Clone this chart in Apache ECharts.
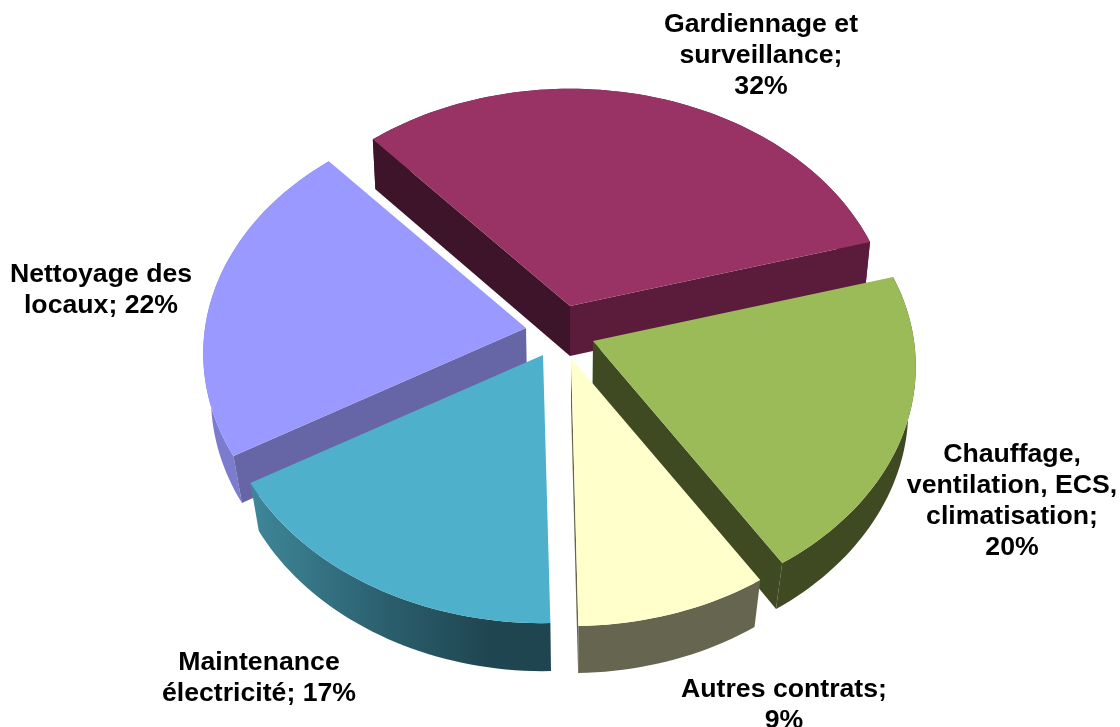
<!DOCTYPE html>
<html><head><meta charset="utf-8">
<style>html,body{margin:0;padding:0;background:#fff}#c{width:1120px;height:727px}</style>
<script src="https://cdn.jsdelivr.net/npm/echarts@6/dist/echarts.min.js"></script>
</head><body><div id="c"></div>
<script>
// DATA
const categories = ['Gardiennage et surveillance','Chauffage, ventilation, ECS, climatisation','Autres contrats','Maintenance électricité','Nettoyage des locaux'];
const values = [32.1,20.4,8.7,16.9,21.9];
const labelLines = [
  ['Gardiennage et','surveillance;','32%'],
  ['Chauffage,','ventilation, ECS,','climatisation;','20%'],
  ['Autres contrats;','9%'],
  ['Maintenance','électricité; 17%'],
  ['Nettoyage des','locaux; 22%']
];
// LAYOUT AND STYLE
const startAngle = -41.5;
const apexes = [[570,306],[593,341],[571,358],[543,355],[526,328]];
const labelAnchors = [[761,9],[1012,439],[784,674],[259,647],[101,259]];
const zRank = [1,3,4,5,2];
const depths = [50,46,47,48,47];
const R = 321, RQ = 240, K = 0.105;
const topColors = ['#993366','#9BBB59','#FFFFCC','#4FB0CB','#9999FF'];
const startFaces = ['#3D1429',null,null,null,'#6666A6'];
const endFaces = ['#5A1C3A','#3F4A22','#666650',null,null];
const outerColors = ['#5A1C3A','#3F4A22','#666650',
  {type:'linear',x:0,y:0,x2:1,y2:0,colorStops:[{offset:0,color:'#3E8799'},{offset:0.45,color:'#2B5F6E'},{offset:0.8,color:'#1F4550'},{offset:1,color:'#1F4550'}]},
  '#7C7CCF'];

const total = values.reduce((a,b)=>a+b,0);
function project(apex, deg){
  const t = deg*Math.PI/180, s = 1/(1+K*Math.cos(t));
  return [apex[0]+R*Math.sin(t)*s, apex[1]-RQ*Math.cos(t)*s];
}
function lower(p, depth){
  const k = 0.015+(p[1]-190)*(0.013/340);
  return [p[0]+(570-p[0])*k, p[1]+depth];
}
function arc(apex,a0,a1){
  const n = Math.max(8,Math.ceil(Math.abs(a1-a0)/1.5)), pts=[];
  for(let i=0;i<=n;i++) pts.push(project(apex,a0+(a1-a0)*i/n));
  return pts;
}
const chart = echarts.init(document.getElementById('c'),null,{renderer:'canvas'});
chart.setOption({
  animation:false,
  backgroundColor:'#fff',
  series:[{
    type:'custom',
    coordinateSystem:'none',
    silent:true,
    data:values.map((v,i)=>({name:categories[i],value:[v]})),
    renderItem(params,api){
      const i = params.dataIndex, v = api.value(0);
      let a0 = startAngle;
      for(let j=0;j<i;j++) a0 += values[j]/total*360;
      const a1 = a0 + v/total*360, A = apexes[i], d = depths[i], z = zRank[i]*10;
      const top = arc(A,a0,a1), bot = top.map(p=>lower(p,d)), Ab = lower(A,d);
      const poly = (points,fill,o)=>({type:'polygon',z2:z+o,shape:{points},style:{fill,stroke:null}});
      const first = top[0], last = top[top.length-1];
      const kids = [poly(top.concat(bot.slice().reverse()),outerColors[i],0)];
      if(startFaces[i]) kids.push(poly([A,first,bot[0],Ab],startFaces[i],1));
      if(endFaces[i]) kids.push(poly([A,last,bot[bot.length-1],Ab],endFaces[i],2));
      kids.push(poly([A].concat(top),topColors[i],3));
      kids.push({type:'text',z2:100,style:{
        x:labelAnchors[i][0],y:labelAnchors[i][1],
        text:labelLines[i].join('\n'),
        fill:'#000',font:'bold 26.67px "Liberation Sans", Arial, sans-serif',
        align:'center',verticalAlign:'top',lineHeight:31
      }});
      return {type:'group',children:kids};
    }
  }]
});
</script></body></html>
